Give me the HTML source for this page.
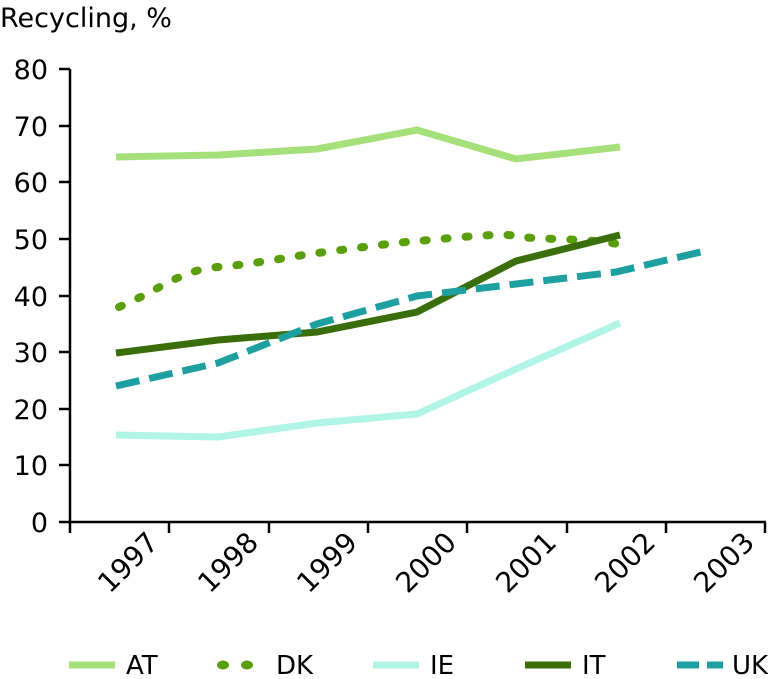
<!DOCTYPE html><html><head><style>body{margin:0;background:#fff}svg{display:block}text{font-family:"DejaVu Sans","Liberation Sans",sans-serif;fill:#000}</style></head><body>
<svg width="768" height="679" viewBox="0 0 768 679">
<text x="0" y="27" style="font-size:27px">Recycling, %</text>
<g style="font-size:27px" text-anchor="end">
<text x="48" y="532">0</text><text x="48" y="475">10</text><text x="48" y="419">20</text><text x="48" y="362">30</text><text x="48" y="306">40</text><text x="48" y="249">50</text><text x="48" y="192">60</text><text x="48" y="136">70</text><text x="48" y="79">80</text>
</g>
<g stroke="#000" stroke-width="2.5">
<line x1="70" y1="69" x2="70" y2="533"/><line x1="59" y1="522" x2="766" y2="522"/>
<line x1="59" y1="465" x2="70" y2="465"/><line x1="59" y1="409" x2="70" y2="409"/><line x1="59" y1="352" x2="70" y2="352"/><line x1="59" y1="296" x2="70" y2="296"/><line x1="59" y1="239" x2="70" y2="239"/><line x1="59" y1="182" x2="70" y2="182"/><line x1="59" y1="126" x2="70" y2="126"/><line x1="59" y1="69" x2="70" y2="69"/>
<line x1="169" y1="522" x2="169" y2="533"/><line x1="269" y1="522" x2="269" y2="533"/><line x1="368" y1="522" x2="368" y2="533"/><line x1="467" y1="522" x2="467" y2="533"/><line x1="567" y1="522" x2="567" y2="533"/><line x1="666" y1="522" x2="666" y2="533"/><line x1="765" y1="522" x2="765" y2="533"/>
</g>
<g style="font-size:28px" text-anchor="end">
<text transform="translate(160,544) rotate(-45)">1997</text>
<text transform="translate(260,544) rotate(-45)">1998</text>
<text transform="translate(359,544) rotate(-45)">1999</text>
<text transform="translate(458,544) rotate(-45)">2000</text>
<text transform="translate(558,544) rotate(-45)">2001</text>
<text transform="translate(657,544) rotate(-45)">2002</text>
<text transform="translate(756,544) rotate(-45)">2003</text>
</g>
<g fill="none" stroke-width="7">
<polyline stroke="#a6e07a" points="116,157 218,155 317,149 417,130 516,159 620,147"/>
<path stroke="#5a9e0a" stroke-width="8" stroke-dasharray="3,18" stroke-linecap="round" d="M119,307 C160,290 180,270 218,267 S300,255 317,253 S400,242 417,241 S500,232 516,236 S600,238 620,245"/>
<polyline stroke="#b0f5e6" points="116,435 218,437 317,423 417,414 516,369 620,323"/>
<polyline stroke="#3a6e0a" points="116,353 218,340 317,332 417,312 516,261 620,235"/>
<polyline stroke="#1fa0a0" stroke-dasharray="24,10" points="116,386 218,363 317,324 417,296 516,284 616,272 705,251"/>
</g>
<g stroke-width="7">
<line x1="69" y1="665" x2="115" y2="665" stroke="#a6e07a"/>
<ellipse cx="223" cy="665" rx="6" ry="4.5" fill="#5a9e0a"/>
<ellipse cx="247" cy="665" rx="6" ry="4.5" fill="#5a9e0a"/>
<line x1="373" y1="665" x2="419" y2="665" stroke="#b0f5e6"/>
<line x1="525" y1="665" x2="571" y2="665" stroke="#3a6e0a"/>
<line x1="677" y1="665" x2="723" y2="665" stroke="#1fa0a0" stroke-dasharray="22,8"/>
</g>
<g style="font-size:26px">
<text x="126" y="674">AT</text><text x="276" y="674">DK</text><text x="430" y="674">IE</text><text x="582" y="674">IT</text><text x="732" y="674">UK</text>
</g>
</svg></body></html>
